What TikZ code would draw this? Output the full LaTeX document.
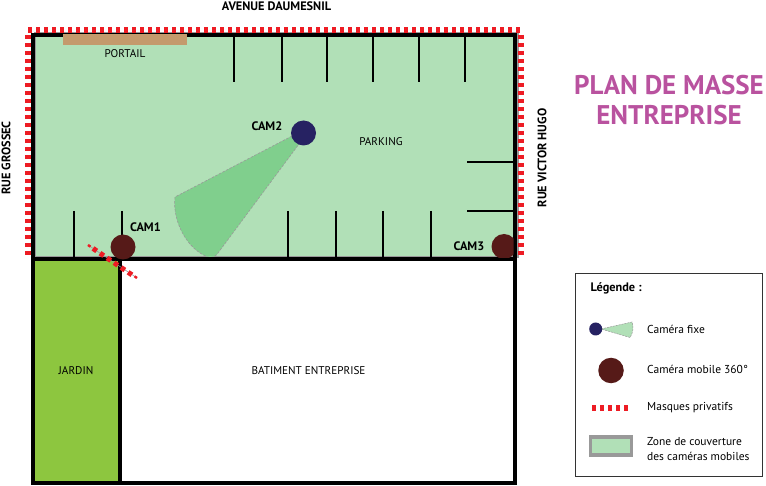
\documentclass[tikz,border=0pt]{standalone}
\usepackage{fontspec}
\setmainfont{PT Sans}
\definecolor{parkgreen}{HTML}{B1E0B7}
\definecolor{conegreen}{HTML}{80CF8D}
\definecolor{garden}{HTML}{8DC63F}
\definecolor{gate}{HTML}{C49A6C}
\definecolor{maskred}{HTML}{ED1C24}
\definecolor{navycam}{HTML}{262262}
\definecolor{browncam}{HTML}{561A18}
\definecolor{titlepink}{HTML}{B9529F}
\definecolor{shadowgray}{HTML}{999999}
\tikzset{
  wall/.style={draw=black,line width=3.6pt,line cap=rect},
  stall/.style={draw=black,line width=2.6pt},
  maskline/.style={draw=maskred,line width=5.5pt,dash pattern=on 4pt off 4pt},
  cone/.style={fill=conegreen,draw=shadowgray,line width=0.6pt,dash pattern=on 2.5pt off 1.5pt},
  fixedcam/.style={circle,fill=navycam,minimum size=25pt,inner sep=0pt},
  mobilecam/.style={circle,fill=browncam,minimum size=25pt,inner sep=0pt},
  lab/.style={font=\fontsize{11.2}{13}\selectfont,text=black,inner sep=0pt},
  blab/.style={lab,font=\fontsize{12.3}{14}\selectfont\bfseries},
  leg/.style={lab,anchor=west,font=\fontsize{11.5}{15}\selectfont}
}
\begin{document}
\begin{tikzpicture}[x=1pt,y=-1pt]
\useasboundingbox (0,0) rectangle (766,486);
\fill[white] (0,0) rectangle (766,486);
% areas
\fill[parkgreen] (33,35) rectangle (515,259);
\fill[garden] (33,259) rectangle (120,483);
\draw[shadowgray,line width=2pt] (35,33) rectangle (518,257);
\fill[parkgreen] (36,36) rectangle (515,256);
% cone of CAM2
\path[cone] (292,136) -- (175,197) .. controls (172,222) and (188,250) .. (208,257) .. controls (213,258) and (216,256) .. (218,253) -- (299,144) -- cycle;
% stalls
\foreach \x in {234,282,327,373,419,465} \draw[stall] (\x,35) -- (\x,82);
\foreach \x in {74,122,288,336,383,431} \draw[stall] (\x,211) -- (\x,259);
\foreach \y in {162,211} \draw[stall] (467,\y) -- (515,\y);
% walls
\draw[wall] (33,35) rectangle (515,483);
\draw[wall] (33,259) -- (515,259);
\draw[wall] (120,259) -- (120,483);
\fill[gate] (63,34) rectangle (187,45);
% masks
\draw[maskline] (28,30) -- (522,30);
\draw[maskline] (28,35) -- (28,258);
\draw[maskline] (521,35) -- (521,256);
% cameras
\node[mobilecam] (cam1) at (123,247) {};
\node[fixedcam] (cam2) at (303.5,133) {};
\begin{scope}
\clip (480,220) rectangle (513.5,257.5);
\node[mobilecam] (cam3) at (504,246.5) {};
\end{scope}
\draw[shadowgray,line width=0.6pt] (88,245) -- (137,278);
\draw[maskred,line width=2.4pt] (88,245) -- (90.5,246.7);
\draw[maskred,line width=2.4pt] (134.5,276.3) -- (137,278);
\draw[maskred,line width=5pt,dash pattern=on 4.5pt off 4pt] (93,248.4) -- (133,275.6);
% labels
\node[blab] (top) at (276.5,6) {AVENUE DAUMESNIL};
\node[blab,rotate=90] (west) at (6,158) {RUE GROSSEC};
\node[blab,rotate=90] (east) at (542,158) {RUE VICTOR HUGO};
\node[lab] (portail) at (125,54) {PORTAIL};
\node[lab] (parking) at (381,142) {PARKING};
\node[lab] (jardin) at (76,371) {JARDIN};
\node[lab] (bat) at (308.5,371) {BATIMENT ENTREPRISE};
\node[blab] (c1) at (145.5,227) {CAM1};
\node[blab] (c2) at (267,126) {CAM2};
\node[blab] (c3) at (469,246) {CAM3};
\node[align=center,text=titlepink,font=\fontsize{27}{30}\selectfont\bfseries,inner sep=0pt] (title) at (669,100) {PLAN DE MASSE\\ENTREPRISE};
% legend
\node[draw=black!80,line width=1pt,fill=white,minimum width=187pt,minimum height=203pt,inner sep=0pt] (legend) at (669.2,375) {};
\node[blab,anchor=west] (lt) at (590.5,288) {Légende :};
\path[fill=parkgreen,draw=shadowgray,line width=0.5pt,dash pattern=on 2pt off 1pt] (601,329) -- (632,322) .. controls (634,327) and (633,333) .. (630,337.5) -- cycle;
\node[circle,fill=navycam,minimum size=13pt,inner sep=0pt] (lcam) at (595.7,329) {};
\node[leg] (l1) at (647,329) {Caméra fixe};
\node[mobilecam,minimum size=25.5pt] (lmob) at (611,370.5) {};
\node[leg] (l2) at (647,369) {Caméra mobile 360°};
\draw[maskline,line width=6pt] (592,408) -- (630,408);
\node[leg] (l3) at (647,407.5) {Masques privatifs};
\node[draw=shadowgray,line width=3.5pt,fill=parkgreen,minimum width=41pt,minimum height=18pt,inner sep=0pt] (lz) at (611,446) {};
\node[leg,align=left] (l4) at (647,449) {Zone de couverture\\des caméras mobiles};
\end{tikzpicture}
\end{document}
